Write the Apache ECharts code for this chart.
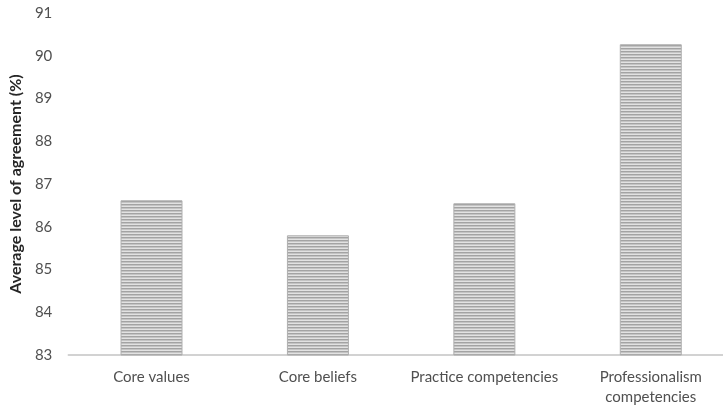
<!DOCTYPE html>
<html>
<head>
<meta charset="utf-8">
<script src="https://cdn.jsdelivr.net/npm/echarts@6/dist/echarts.min.js"></script>
<style>
  html, body { margin: 0; padding: 0; background: #fff; overflow: hidden; }
  #chart { width: 734px; height: 407px; }
</style>
</head>
<body>
<div id="chart"></div>
<script>
// Average agreement per domain
const categories = ['Core values', 'Core beliefs', 'Practice competencies', 'Professionalism\ncompetencies'];
const agreement = [86.62, 85.8, 86.55, 90.27];
const yTicks = { min: 83, max: 91, step: 1 };

// Horizontal hatch fill for the bars
function stripeFill() {
  const c = document.createElement('canvas');
  c.width = 8; c.height = 3;
  const g = c.getContext('2d');
  g.fillStyle = '#e2e2e2';
  g.fillRect(0, 0, 8, 3);
  g.fillStyle = '#a3a3a3';
  g.fillRect(0, 0, 8, 1);
  g.fillStyle = '#c4c4c4';
  g.fillRect(0, 1, 8, 1);
  return c;
}

const chart = echarts.init(document.getElementById('chart'), null, { renderer: 'canvas' });
const font = 'Lato, "Open Sans", sans-serif';
chart.setOption({
  animation: false,
  grid: { left: 66, top: 13, right: 0, bottom: 51 },
  xAxis: {
    type: 'category',
    data: categories,
    axisLine: { lineStyle: { color: '#c4c4c4', width: 1.5 } },
    axisTick: { show: false },
    axisLabel: { color: '#505050', fontSize: 15, fontFamily: font, margin: 12, lineHeight: 20, interval: 0 }
  },
  yAxis: {
    type: 'value',
    min: yTicks.min,
    max: yTicks.max,
    interval: yTicks.step,
    name: 'Average level of agreement (%)',
    nameLocation: 'middle',
    nameGap: 41,
    nameTextStyle: { color: '#262626', fontSize: 16, fontWeight: 'bold', fontFamily: font },
    axisLine: { show: false },
    axisTick: { show: false },
    splitLine: { show: false },
    axisLabel: { color: '#505050', fontSize: 15, fontFamily: font, margin: 16 }
  },
  series: [{
    type: 'bar',
    data: agreement,
    barWidth: 62,
    itemStyle: {
      color: { image: stripeFill(), repeat: 'repeat' },
      borderColor: '#b0b0b0',
      borderWidth: 1
    }
  }]
});
</script>
</body>
</html>
